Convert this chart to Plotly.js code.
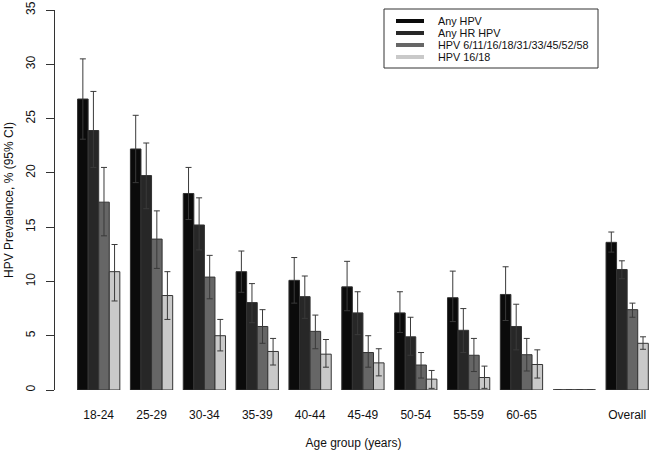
<!DOCTYPE html>
<html>
<head>
<meta charset="utf-8">
<script src="https://cdn.plot.ly/plotly-3.0.1.min.js"></script>
<style>html,body{margin:0;padding:0;background:#fff;}</style>
</head>
<body>
<div id="chart" style="width:652px;height:454px;"></div>
<script>
// Categories (the blank one is an empty spacer group in the original)
const categories = ['18-24','25-29','30-34','35-39','40-44','45-49','50-54','55-59','60-65','','Overall'];
const seriesNames = ['Any HPV','Any HR HPV','HPV 6/11/16/18/31/33/45/52/58','HPV 16/18'];

// Prevalence (%)
const anyHPV   = [26.8, 22.2, 18.1, 10.9, 10.1, 9.5, 7.1, 8.5, 8.8, 0, 13.6];
const anyHR    = [23.9, 19.75, 15.2, 8.05, 8.6, 7.1, 4.9, 5.5, 5.85, 0, 11.1];
const ninev    = [17.3, 13.9, 10.4, 5.85, 5.4, 3.45, 2.3, 3.2, 3.25, 0, 7.4];
const hpv1618  = [10.9, 8.7, 5.0, 3.55, 3.3, 2.5, 1.0, 1.15, 2.35, 0, 4.3];

// 95% CI upper bounds
const anyHPVHi  = [30.5, 25.3, 20.5, 12.8, 12.2, 11.85, 9.05, 10.95, 11.35, null, 14.55];
const anyHRHi   = [27.5, 22.75, 17.7, 9.8, 10.5, 9.05, 6.7, 7.5, 7.9, null, 11.9];
const ninevHi   = [20.5, 16.5, 12.4, 7.4, 6.9, 5.0, 3.45, 4.75, 4.75, null, 8.0];
const hpv1618Hi = [13.4, 10.9, 6.5, 4.75, 4.65, 3.8, 1.8, 2.2, 3.7, null, 4.9];

// 95% CI lower bounds
const anyHPVLo  = [23.1, 19.1, 15.7, 9.0, 8.0, 7.3, 5.3, 6.3, 6.4, null, 12.7];
const anyHRLo   = [20.5, 16.7, 12.9, 6.2, 6.6, 5.1, 3.2, 3.45, 3.7, null, 10.25];
const ninevLo   = [14.2, 11.2, 8.4, 4.3, 3.8, 2.1, 1.1, 1.7, 1.75, null, 6.7];
const hpv1618Lo = [8.2, 6.5, 3.6, 2.3, 2.1, 1.3, 0.15, 0.15, 1.1, null, 3.75];

const yTicks = [0, 5, 10, 15, 20, 25, 30, 35];

const values = [anyHPV, anyHR, ninev, hpv1618];
const his = [anyHPVHi, anyHRHi, ninevHi, hpv1618Hi];
const los = [anyHPVLo, anyHRLo, ninevLo, hpv1618Lo];
const colors = ['#0b0b0b', '#272727', '#666666', '#c9c9c9'];

const xIdx = categories.map((c, i) => i);
const bargap = 0.2;

const traces = values.map((v, s) => ({
  type: 'bar',
  name: seriesNames[s],
  x: xIdx,
  y: v,
  marker: {color: colors[s], line: {color: '#333333', width: 1}},
  error_y: {
    type: 'data', symmetric: false,
    array: v.map((val, i) => his[s][i] == null ? null : his[s][i] - val),
    arrayminus: v.map((val, i) => los[s][i] == null ? null : val - los[s][i]),
    color: '#3a3a3a', thickness: 1, width: 3
  },
  showlegend: false,
  hoverinfo: 'x+y'
}));

// margins / plot geometry
const W = 652, H = 454;
const M = {l: 55, r: 0, t: 10, b: 64};
const pw = W - M.l - M.r, ph = H - M.t - M.b;
const px2x = px => (px - M.l) / pw;
const py2y = py => (H - M.b - py) / ph;

const shapes = [];
// zero-height bars of the blank spacer group, drawn as a baseline
categories.forEach((c, i) => {
  const allZero = values.every(v => v[i] === 0);
  if (allZero) {
    shapes.push({type: 'line', xref: 'x', yref: 'y',
      x0: i - (1 - bargap) / 2, x1: i + (1 - bargap) / 2, y0: 0, y1: 0,
      line: {color: '#333333', width: 1}});
  }
});

// legend box
shapes.push({type: 'rect', xref: 'paper', yref: 'paper',
  x0: px2x(384), x1: px2x(598), y0: py2y(68), y1: py2y(9),
  line: {color: '#333333', width: 1}, fillcolor: 'rgba(0,0,0,0)', layer: 'above'});
const rowY = [21, 33, 45, 57];
const annotations = [];
seriesNames.forEach((n, s) => {
  shapes.push({type: 'line', xref: 'paper', yref: 'paper',
    x0: px2x(396), x1: px2x(424), y0: py2y(rowY[s]), y1: py2y(rowY[s]),
    line: {color: colors[s], width: 4}});
  annotations.push({xref: 'paper', yref: 'paper', x: px2x(436), y: py2y(rowY[s]),
    xanchor: 'left', yanchor: 'middle', showarrow: false, text: n,
    font: {size: 10.8, color: '#111'}});
});

const layout = {
  width: W, height: H,
  margin: M,
  paper_bgcolor: '#ffffff', plot_bgcolor: '#ffffff',
  font: {family: '"Liberation Sans", Arial, sans-serif', size: 12, color: '#111111'},
  barmode: 'group', bargap: bargap, bargroupgap: 0,
  showlegend: false,
  xaxis: {
    range: [-0.827, 10.47],
    tickvals: xIdx, ticktext: categories,
    showgrid: false, zeroline: false, showline: false, ticks: '',
    ticklabelstandoff: 16,
    title: {text: 'Age group (years)', standoff: 17, font: {size: 12}}
  },
  yaxis: {
    range: [0, 35],
    tickvals: yTicks,
    showgrid: false, zeroline: false,
    showline: true, linecolor: '#333333', linewidth: 1,
    ticks: 'outside', ticklen: 8, tickcolor: '#333333',
    tickangle: -90, ticklabelstandoff: 6,
    title: {text: 'HPV Prevalence, % (95% CI)', standoff: 8, font: {size: 12}}
  },
  shapes: shapes,
  annotations: annotations
};

Plotly.newPlot('chart', traces, layout, {staticPlot: true, displayModeBar: false});
</script>
</body>
</html>
